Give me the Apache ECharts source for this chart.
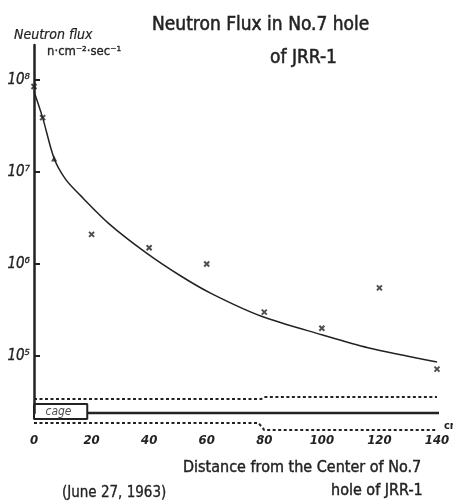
<!DOCTYPE html>
<html>
<head>
<meta charset="utf-8">
<script src="https://cdn.jsdelivr.net/npm/echarts@6/dist/echarts.min.js"></script>
<style>
  html, body { margin: 0; padding: 0; background: #fff; }
  #main { width: 453px; height: 504px; }
</style>
</head>
<body>
<div id="main"></div>
<script>
// measured flux (n·cm^-2·sec^-1) against distance (cm)
const distances = [0, 3, 7, 20, 40, 60, 80, 100, 120, 140]
const fluxes = [8.5e7, 3.9e7, 1.4e7, 2.1e6, 1.5e6, 1.0e6, 3.0e5, 2.0e5, 5.5e5, 7.2e4]
// hand drawn fit curve
const curveX = [0, 3, 7, 11, 16, 26, 39, 51, 62, 79, 100, 116, 140]
const curveY = [7.5e7, 3.9e7, 1.4e7, 8.3e6, 5.6e6, 2.75e6, 1.32e6, 7.4e5, 4.7e5, 2.7e5, 1.7e5, 1.23e5, 8.6e4]
const xTicks = [0, 20, 40, 60, 80, 100, 120, 140]
const yTicks = [1e5, 1e6, 1e7, 1e8]
const yLabels = { 5: '10⁵', 6: '10⁶', 7: '10⁷', 8: '10⁸' }

const ink = '#222'
const font = '"DejaVu Sans Condensed", "Liberation Sans Narrow", "DejaVu Sans", sans-serif'

const chart = echarts.init(document.getElementById('main'))

const pts = distances.map((d, i) => [d, fluxes[i]])
const crossPts = pts.filter((p, i) => i !== 2)
const triPts = [pts[2]]

// thicker pen look for the hand lettering
function pen(size, extra) {
  return Object.assign({
    fontFamily: font, fontSize: size, fontWeight: 'normal', color: ink,
    textBorderColor: ink, textBorderWidth: 0.5
  }, extra || {})
}

const option = {
  backgroundColor: '#fff',
  animation: false,
  title: [
    { text: 'Neutron Flux in No.7 hole', left: 147, top: 11, textStyle: pen(19) },
    { text: 'of JRR-1', left: 265, top: 44, textStyle: pen(19) },
    { text: 'Neutron flux', left: 9, top: 23, textStyle: pen(14, { fontStyle: 'italic', textBorderWidth: 0.2 }) },
    { text: 'n·cm⁻²·sec⁻¹', left: 42, top: 40, textStyle: pen(13, { textBorderWidth: 0.3 }) },
    { text: 'cm', left: 439, top: 416, textStyle: pen(11, { fontWeight: 'bold', textBorderWidth: 0 }) },
    { text: 'Distance from the Center of No.7', left: 178, top: 455, textStyle: pen(16, { textBorderWidth: 0.4 }) },
    { text: 'hole of JRR-1', left: 326, top: 478, textStyle: pen(16, { textBorderWidth: 0.4 }) },
    { text: '(June 27, 1963)', left: 57, top: 481, textStyle: pen(15, { textBorderWidth: 0.3 }) }
  ],
  grid: [
    { left: 34, right: 16, top: 45, bottom: 91 },
    // strip under the plot for the hole / cage sketch
    { left: 34, right: 16, top: 393, height: 40 }
  ],
  xAxis: [
    {
      type: 'value', min: 0, max: 140, interval: 20,
      axisLine: { show: false },
      axisTick: { show: false },
      splitLine: { show: false },
      axisLabel: {
        margin: 21, color: ink, fontFamily: font, fontSize: 13,
        fontStyle: 'italic', fontWeight: 'bold',
        customValues: xTicks
      }
    },
    { gridIndex: 1, type: 'value', min: 0, max: 140, show: false }
  ],
  yAxis: [
    {
      type: 'log', logBase: 10, min: 2.4e4, max: 2.4e8,
      axisLine: { show: true, lineStyle: { color: ink, width: 2.5 } },
      axisTick: { show: true, inside: true, length: 6, lineStyle: { color: ink, width: 2 }, customValues: yTicks },
      splitLine: { show: false },
      axisLabel: {
        margin: 4, color: ink, fontFamily: font, fontSize: 15, fontStyle: 'italic',
        textBorderColor: ink, textBorderWidth: 0.3,
        customValues: yTicks,
        formatter: v => yLabels[Math.round(Math.log10(v))] || ''
      }
    },
    { gridIndex: 1, type: 'value', min: 0, max: 40, inverse: true, show: false }
  ],
  series: [
    {
      name: 'fit', type: 'line', smooth: 0.3, showSymbol: false, silent: true,
      data: curveX.map((x, i) => [x, curveY[i]]),
      lineStyle: { color: ink, width: 1.5 }
    },
    {
      name: 'measured', type: 'scatter',
      symbol: 'path://M0,0L10,10M10,0L0,10', symbolSize: 5,
      itemStyle: { color: 'transparent', borderColor: ink, borderWidth: 2 },
      data: crossPts
    },
    {
      name: 'measured2', type: 'scatter', symbol: 'triangle', symbolSize: 6,
      itemStyle: { color: ink },
      data: triPts
    },
    {
      name: 'upper wall', type: 'line', xAxisIndex: 1, yAxisIndex: 1, showSymbol: false,
      data: [[0, 6], [79, 6], [80, 4], [140, 4]],
      lineStyle: { color: ink, width: 2, type: [3, 2.5] }
    },
    {
      name: 'lower wall', type: 'line', xAxisIndex: 1, yAxisIndex: 1, showSymbol: false,
      data: [[0, 30], [78, 30], [80, 37], [140, 37]],
      lineStyle: { color: ink, width: 2, type: [3, 2.5] }
    },
    {
      name: 'cage', type: 'line', xAxisIndex: 1, yAxisIndex: 1, showSymbol: false,
      data: [[0, 11], [18.5, 11], [18.5, 26], [0, 26], [0, 11]],
      lineStyle: { color: ink, width: 2 }
    },
    {
      name: 'axis', type: 'line', xAxisIndex: 1, yAxisIndex: 1, showSymbol: false,
      data: [[18.5, 20], [141, 20]],
      lineStyle: { color: ink, width: 2.5 }
    },
    {
      name: 'cage label', type: 'scatter', xAxisIndex: 1, yAxisIndex: 1, symbolSize: 0,
      data: [[8.5, 18.5]],
      label: { show: true, position: 'inside', formatter: 'cage', color: ink,
        fontFamily: font, fontSize: 12, fontStyle: 'italic' }
    }
  ]
}

chart.setOption(option)
</script>
</body>
</html>
